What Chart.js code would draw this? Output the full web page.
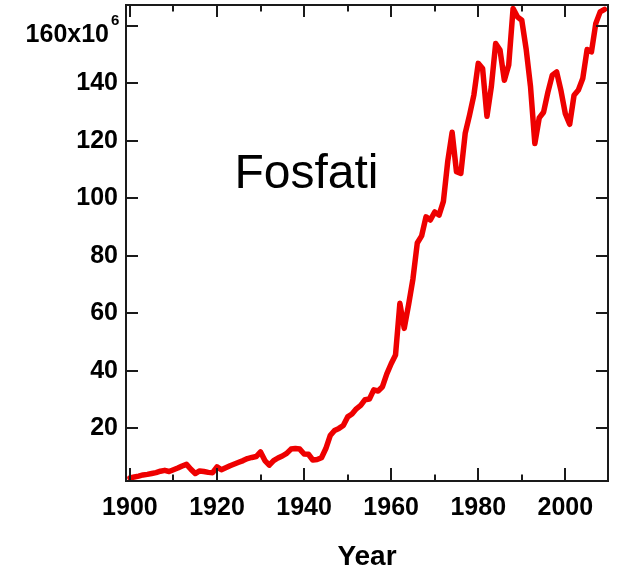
<!DOCTYPE html>
<html><head><meta charset="utf-8">
<script src="https://cdn.jsdelivr.net/npm/chart.js@4"></script>
<style>html,body{margin:0;padding:0;background:#fff;}canvas{display:block;}</style>
</head><body>
<canvas id="c" width="617" height="571"></canvas>
<script>
const years = [
  1900,1901,1902,1903,1904,1905,1906,1907,1908,1909,
  1910,1911,1912,1913,1914,1915,1916,1917,1918,1919,
  1920,1921,1922,1923,1924,1925,1926,1927,1928,1929,
  1930,1931,1932,1933,1934,1935,1936,1937,1938,1939,
  1940,1941,1942,1943,1944,1945,1946,1947,1948,1949,
  1950,1951,1952,1953,1954,1955,1956,1957,1958,1959,
  1960,1961,1962,1963,1964,1965,1966,1967,1968,1969,
  1970,1971,1972,1973,1974,1975,1976,1977,1978,1979,
  1980,1981,1982,1983,1984,1985,1986,1987,1988,1989,
  1990,1991,1992,1993,1994,1995,1996,1997,1998,1999,
  2000,2001,2002,2003,2004,2005,2006,2007,2008,2009];
const phosphate = [
  2.8,3.1,3.4,3.8,4.0,4.3,4.6,5.1,5.4,5.0,
  5.6,6.2,6.9,7.5,5.8,4.3,5.2,5.0,4.7,4.6,
  6.6,5.6,6.3,7.0,7.6,8.2,8.8,9.5,9.9,10.2,
  11.8,8.8,7.2,8.8,9.7,10.4,11.3,12.8,13.0,12.8,
  11.1,11.0,9.0,9.2,9.8,13.0,17.5,19.3,20.0,21.0,
  24.0,25.0,26.8,28.0,30.0,30.2,33.4,33.0,34.5,39.0,
  42.5,45.5,63.5,54.8,63.0,72.0,84.5,87.0,93.6,92.5,
  95.3,94.2,99.0,113.0,123.0,109.3,108.7,122.6,129.0,136.0,
  147.0,145.2,128.6,138.8,153.9,151.6,141.1,146.4,166.1,163.2,
  162.0,152.0,139.0,119.1,128.0,130.0,137.0,142.9,144.0,137.5,
  129.5,125.8,135.9,137.7,141.7,151.8,151.0,160.9,164.9,165.8];
const xTickLabels = [1900,1920,1940,1960,1980,2000];
const xMinorTicks = [1910,1930,1950,1970,1990];
const yTickLabels = [20,40,60,80,100,120,140,160];
const yTopLabelBase = '160x10';
const yTopLabelExp = '6';
const xTitle = 'Year';
const annotationText = 'Fosfati';
const annotationAt = [1924, 103.6];

const FONT = '"Liberation Sans", Arial, Helvetica, sans-serif';
Chart.defaults.color = '#000';
Chart.defaults.font.family = FONT;

const framePlugin = {
  id: 'frame',
  afterDraw(chart) {
    const {ctx, chartArea: {left, right, top, bottom}, scales: {x, y}} = chart;
    ctx.save();
    ctx.strokeStyle = '#1a1a1a';
    ctx.lineWidth = 2;
    ctx.strokeRect(left, top, right - left, bottom - top);
    ctx.beginPath();
    xTickLabels.forEach(v => {
      const px = Math.round(x.getPixelForValue(v));
      ctx.moveTo(px, bottom); ctx.lineTo(px, bottom - 13);
      ctx.moveTo(px, top); ctx.lineTo(px, top + 12);
    });
    xMinorTicks.forEach(v => {
      const px = Math.round(x.getPixelForValue(v));
      ctx.moveTo(px, bottom); ctx.lineTo(px, bottom - 6.5);
      ctx.moveTo(px, top); ctx.lineTo(px, top + 6.5);
    });
    yTickLabels.forEach(v => {
      const py = Math.round(y.getPixelForValue(v));
      ctx.moveTo(left, py); ctx.lineTo(left + 12, py);
      ctx.moveTo(right, py); ctx.lineTo(right - 12, py);
    });
    ctx.stroke();
    // annotation
    ctx.fillStyle = '#000';
    ctx.font = '48px ' + FONT;
    ctx.textAlign = 'left';
    ctx.textBaseline = 'alphabetic';
    ctx.fillText(annotationText, x.getPixelForValue(annotationAt[0]), y.getPixelForValue(annotationAt[1]));
    // top y label with exponent
    const py160 = y.getPixelForValue(160);
    ctx.font = 'bold 25px ' + FONT;
    ctx.textAlign = 'right';
    ctx.fillText(yTopLabelBase, left - 17, py160 + 16);
    ctx.font = 'bold 15px ' + FONT;
    ctx.textAlign = 'left';
    ctx.fillText(yTopLabelExp, left - 15, py160 - 1);
    ctx.restore();
  }
};

new Chart(document.getElementById('c'), {
  type: 'line',
  data: {
    datasets: [{
      data: years.map((yr, i) => ({x: yr, y: phosphate[i]})),
      borderColor: '#ee0000',
      borderWidth: 5.5,
      pointRadius: 0,
      tension: 0,
      borderJoinStyle: 'round',
      borderCapStyle: 'round'
    }]
  },
  options: {
    responsive: false,
    animation: false,
    layout: {padding: {top: 5, right: 9, left: 0, bottom: 0}},
    plugins: {legend: {display: false}, tooltip: {enabled: false}},
    scales: {
      x: {
        type: 'linear',
        min: 1899.1, max: 2009.8,
        grid: {display: false, drawTicks: false},
        border: {display: false},
        afterBuildTicks: s => { s.ticks = xTickLabels.map(v => ({value: v})); },
        afterFit: s => { s.height = 90; s.paddingLeft = 0; s.paddingRight = 0; },
        ticks: {
          padding: 12,
          maxRotation: 0,
          autoSkip: false,
          font: {size: 25, weight: 'bold'},
          callback: v => String(v)
        },
        title: {display: true, text: xTitle, font: {size: 28, weight: 'bold'}, padding: {top: 0, bottom: -3}}
      },
      y: {
        type: 'linear',
        min: 1.7, max: 167.3,
        grid: {display: false, drawTicks: false},
        border: {display: false},
        afterBuildTicks: s => { s.ticks = yTickLabels.map(v => ({value: v})); },
        afterFit: s => { s.width = 126; s.paddingTop = 0; s.paddingBottom = 0; },
        ticks: {
          padding: 8,
          autoSkip: false,
          font: {size: 25, weight: 'bold'},
          callback: v => (v === 160 ? '' : String(v))
        }
      }
    }
  },
  plugins: [framePlugin]
});
</script>
</body></html>
